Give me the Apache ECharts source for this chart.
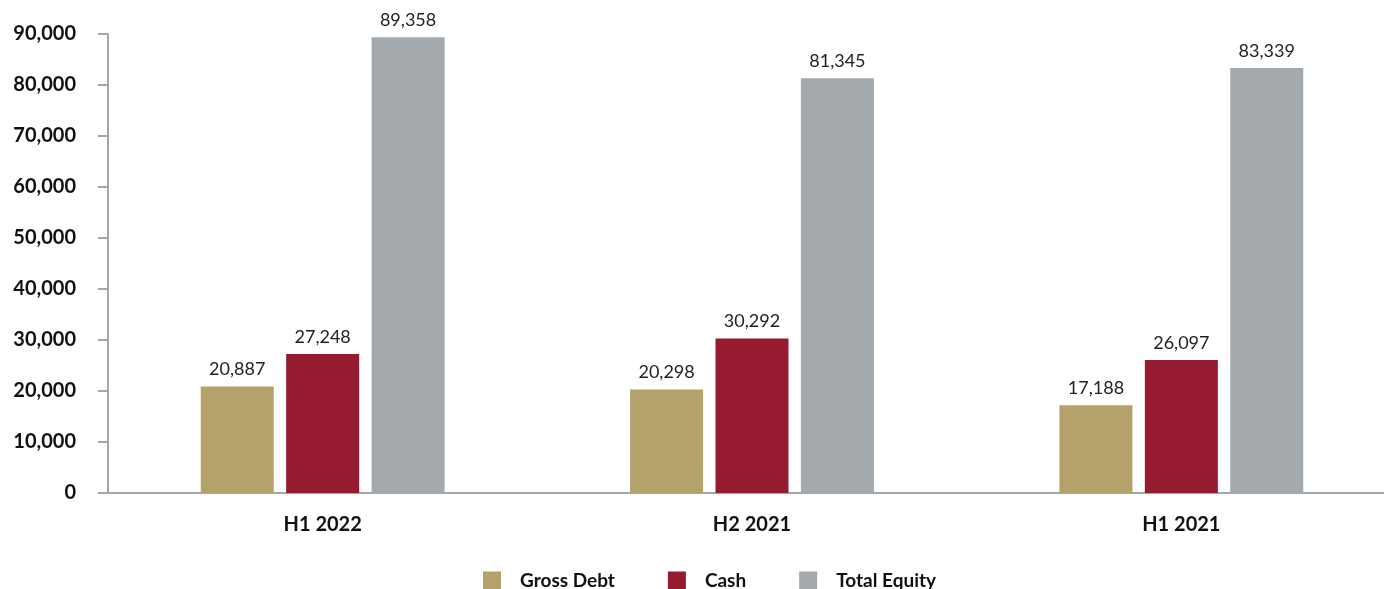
<!DOCTYPE html>
<html>
<head>
<meta charset="utf-8">
<script src="https://cdn.jsdelivr.net/npm/echarts@6/dist/echarts.min.js"></script>
<style>
  html, body { margin: 0; padding: 0; background: #fff; overflow: hidden; }
  /* the plot area runs a bit past the right edge in the original, so the canvas is wider than the window */
  #chart { width: 1396px; height: 589px; }
</style>
</head>
<body>
<div id="chart"></div>
<script>
// periods on the x axis
var periods = ['H1 2022', 'H2 2021', 'H1 2021'];
var grossDebt = [20887, 20298, 17188];
var cash = [27248, 30292, 26097];
var totalEquity = [89358, 81345, 83339];

var chart = echarts.init(document.getElementById('chart'));
var fontFam = 'Lato, "Noto Sans", sans-serif';

var labelStyle = {
  show: true,
  position: 'top',
  distance: 8,
  color: '#222',
  fontSize: 18,
  fontFamily: fontFam,
  formatter: function (p) { return p.value.toLocaleString('en-US'); }
};

var option = {
  animation: false,
  grid: { left: 108, right: 0, top: 34, bottom: 96 },
  legend: {
    top: 566,
    left: 478,
    itemWidth: 18,
    itemHeight: 18,
    itemGap: 53,
    icon: 'rect',
    textStyle: {
      fontSize: 19,
      fontWeight: 'bold',
      color: '#111',
      fontFamily: fontFam,
      padding: [0, 0, 0, 14]
    },
    data: ['Gross Debt', 'Cash', 'Total Equity']
  },
  xAxis: {
    type: 'category',
    data: periods,
    axisLine: { lineStyle: { color: '#a6a6a6', width: 2 } },
    axisTick: { show: false },
    axisLabel: {
      margin: 22,
      fontSize: 20,
      fontWeight: 'bold',
      color: '#111',
      fontFamily: fontFam
    }
  },
  yAxis: {
    type: 'value',
    min: 0,
    max: 90000,
    interval: 10000,
    splitLine: { show: false },
    axisLine: { show: true, lineStyle: { color: '#a6a6a6', width: 2 } },
    axisTick: { show: true, length: 10, lineStyle: { color: '#a6a6a6', width: 2 } },
    axisLabel: {
      margin: 32,
      fontSize: 20,
      fontWeight: 'bold',
      color: '#111',
      fontFamily: fontFam,
      formatter: function (v) { return v.toLocaleString('en-US'); }
    }
  },
  series: [
    {
      name: 'Gross Debt', type: 'bar', data: grossDebt,
      barWidth: 73, barGap: '17%',
      itemStyle: { color: '#b5a16a' },
      label: labelStyle
    },
    {
      name: 'Cash', type: 'bar', data: cash,
      barWidth: 73, barGap: '17%',
      itemStyle: { color: '#961b30' },
      label: labelStyle
    },
    {
      name: 'Total Equity', type: 'bar', data: totalEquity,
      barWidth: 73, barGap: '17%',
      itemStyle: { color: '#a3a9ac' },
      label: labelStyle
    }
  ]
};

chart.setOption(option);
</script>
</body>
</html>
